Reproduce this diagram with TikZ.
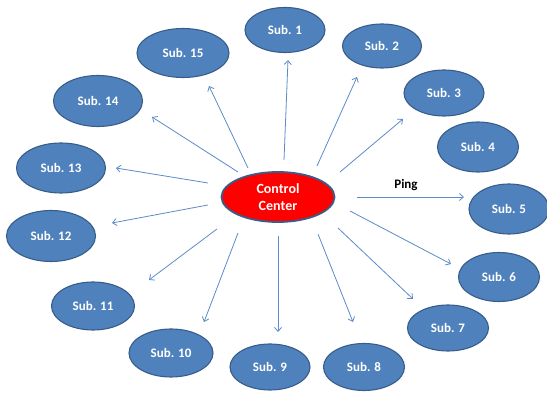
\documentclass[tikz,border=0pt]{standalone}
\usepackage{fontspec}
\setmainfont{Carlito}
\usetikzlibrary{shapes.geometric,arrows.meta}
\definecolor{subfill}{HTML}{4F81BD}
\definecolor{subline}{HTML}{385D8A}
\definecolor{linkcol}{HTML}{5B8BC9}
\tikzset{
  sub/.style={ellipse, draw=subline, line width=1.1pt, fill=subfill, inner sep=0pt,
    text=white, font=\bfseries\fontsize{13}{14}\selectfont},
  hub/.style={ellipse, draw=subline, line width=1.8pt, fill=red, inner sep=0pt,
    text=white, align=center, font=\bfseries\fontsize{14}{17}\selectfont},
  link/.style={draw=linkcol, line width=0.8pt, -{Straight Barb[length=4pt,width=7pt]}},
}
\begin{document}
\begin{tikzpicture}[x=1pt,y=-1pt]
\useasboundingbox (0,0) rectangle (547,395);

% central node
\node[hub, minimum width=113pt, minimum height=50pt] (cc) at (278,197) {Control\\Center};

% substations
\node[sub, minimum width=80pt, minimum height=45pt] (s1)  at (285,30)  {Sub. 1};
\node[sub, minimum width=79pt, minimum height=44pt] (s2)  at (382,46)  {Sub. 2};
\node[sub, minimum width=80pt, minimum height=46pt] (s3)  at (444,93)  {Sub. 3};
\node[sub, minimum width=81pt, minimum height=50pt] (s4)  at (478,147) {Sub. 4};
\node[sub, minimum width=80pt, minimum height=50pt] (s5)  at (509,209) {Sub. 5};
\node[sub, minimum width=81pt, minimum height=49pt] (s6)  at (499,277) {Sub. 6};
\node[sub, minimum width=81pt, minimum height=46pt] (s7)  at (448,328) {Sub. 7};
\node[sub, minimum width=81pt, minimum height=47pt] (s8)  at (364,367) {Sub. 8};
\node[sub, minimum width=80pt, minimum height=46pt] (s9)  at (270,367) {Sub. 9};
\node[sub, minimum width=84pt, minimum height=48pt] (s10) at (171,353) {Sub. 10};
\node[sub, minimum width=83pt, minimum height=48pt] (s11) at (93,306)  {Sub. 11};
\node[sub, minimum width=89pt, minimum height=51pt] (s12) at (51,236)  {Sub. 12};
\node[sub, minimum width=89pt, minimum height=50pt] (s13) at (61,168)  {Sub. 13};
\node[sub, minimum width=89pt, minimum height=51pt] (s14) at (98,101)  {Sub. 14};
\node[sub, minimum width=92pt, minimum height=49pt] (s15) at (183,53)  {Sub. 15};

% start and end points of the ping links
\coordinate (a1)  at (284,160); \coordinate (b1)  at (288,60);
\coordinate (a2)  at (317,166); \coordinate (b2)  at (357,77);
\coordinate (a3)  at (340,172); \coordinate (b3)  at (403,119);
\coordinate (a5)  at (357,197); \coordinate (b5)  at (464,197);
\coordinate (a6)  at (350,211); \coordinate (b6)  at (451,264);
\coordinate (a7)  at (338,228); \coordinate (b7)  at (413,299);
\coordinate (a8)  at (318,234); \coordinate (b8)  at (353,322);
\coordinate (a9)  at (278,236); \coordinate (b9)  at (278,332);
\coordinate (a10) at (238,233); \coordinate (b10) at (204,322);
\coordinate (a11) at (217,229); \coordinate (b11) at (149,280);
\coordinate (a12) at (208,205); \coordinate (b12) at (112,223);
\coordinate (a13) at (208,183); \coordinate (b13) at (116,168);
\coordinate (a14) at (238,172); \coordinate (b14) at (152,117);
\coordinate (a15) at (248,168); \coordinate (b15) at (209,86);

\foreach \i in {1,2,3,5,6,7,8,9,10,11,12,13,14,15}
  \draw[link] (a\i) -- (b\i);

\node[font=\bfseries\fontsize{13}{14}\selectfont, anchor=base] (ping) at (406,189) {Ping};
\end{tikzpicture}
\end{document}
